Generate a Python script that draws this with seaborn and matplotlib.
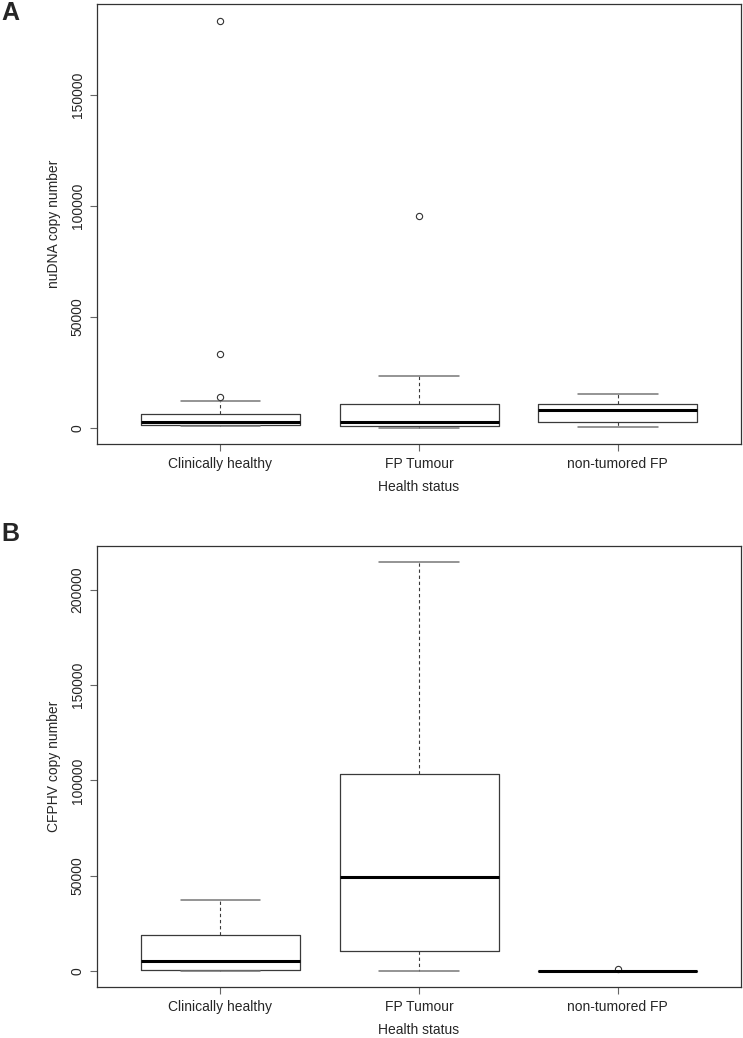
import matplotlib
matplotlib.use("Agg")
import matplotlib.pyplot as plt
import seaborn as sns

groups = ["Clinically healthy", "FP Tumour", "non-tumored FP"]

# panel A: nuDNA copy number, five-number summaries
nu_whislo = [750, 0, 300]
nu_q1 = [1500, 750, 2550]
nu_med = [2700, 2700, 7900]
nu_q3 = [6400, 10600, 10750]
nu_whishi = [12000, 23400, 15400]
nu_fliers = [[14000, 33200, 183500], [95300], []]

# panel B: CFPHV copy number
cf_whislo = [0, 0, 0]
cf_q1 = [200, 10300, 0]
cf_med = [5000, 49300, 0]
cf_q3 = [18600, 103100, 0]
cf_whishi = [37100, 214500, 0]
cf_fliers = [[], [], [700]]

sns.set_style("ticks")
plt.rcParams["font.family"] = ["Liberation Sans", "DejaVu Sans"]


def draw_panel(ax, whislo, q1, med, q3, whishi, fliers, ylabel, yticks):
    stats = []
    for i, g in enumerate(groups):
        stats.append(dict(label=g, whislo=whislo[i], q1=q1[i], med=med[i],
                          q3=q3[i], whishi=whishi[i], fliers=fliers[i]))
    ax.bxp(stats, positions=[1, 2, 3], widths=0.8, capwidths=0.4,
           boxprops=dict(color="#3a3a3a", linewidth=0.9),
           medianprops=dict(color="black", linewidth=2.2, solid_capstyle="butt"),
           whiskerprops=dict(color="#3a3a3a", linewidth=0.8, linestyle=(0, (3, 2.5))),
           capprops=dict(color="#777777", linewidth=1.1),
           flierprops=dict(marker="o", markersize=4.5, markerfacecolor="none",
                           markeredgecolor="#333333", markeredgewidth=0.8))

    # R style 4% padding around the data range
    allv = whislo + whishi + [v for f in fliers for v in f]
    lo, hi = min(allv), max(allv)
    pad = 0.04 * (hi - lo)
    ax.set_ylim(lo - pad, hi + pad)
    ax.set_xlim(0.38, 3.62)

    ax.set_yticks(yticks)
    ax.set_yticklabels([str(t) for t in yticks], rotation=90, va="center")
    ax.set_xticks([1, 2, 3])
    ax.set_xticklabels(groups)
    ax.tick_params(length=5, width=0.8, color="#666666", labelsize=10, pad=4)
    for s in ax.spines.values():
        s.set_color("#333333")
        s.set_linewidth(0.9)
    ax.set_ylabel(ylabel, fontsize=10, labelpad=7)
    ax.set_xlabel("Health status", fontsize=10, labelpad=7)


fig = plt.figure(figsize=(7.43, 10.38), dpi=100)
axA = fig.add_axes([0.1306, 0.5720, 0.8667, 0.4239])
axB = fig.add_axes([0.1306, 0.0491, 0.8667, 0.4249])

draw_panel(axA, nu_whislo, nu_q1, nu_med, nu_q3, nu_whishi, nu_fliers,
           "nuDNA copy number", [0, 50000, 100000, 150000])
draw_panel(axB, cf_whislo, cf_q1, cf_med, cf_q3, cf_whishi, cf_fliers,
           "CFPHV copy number", [0, 50000, 100000, 150000, 200000])

fig.text(0.002, 0.999, "A", fontsize=18, fontweight="bold", va="top", ha="left")
fig.text(0.002, 0.497, "B", fontsize=18, fontweight="bold", va="top", ha="left")

fig.savefig("out.png", dpi=100)
